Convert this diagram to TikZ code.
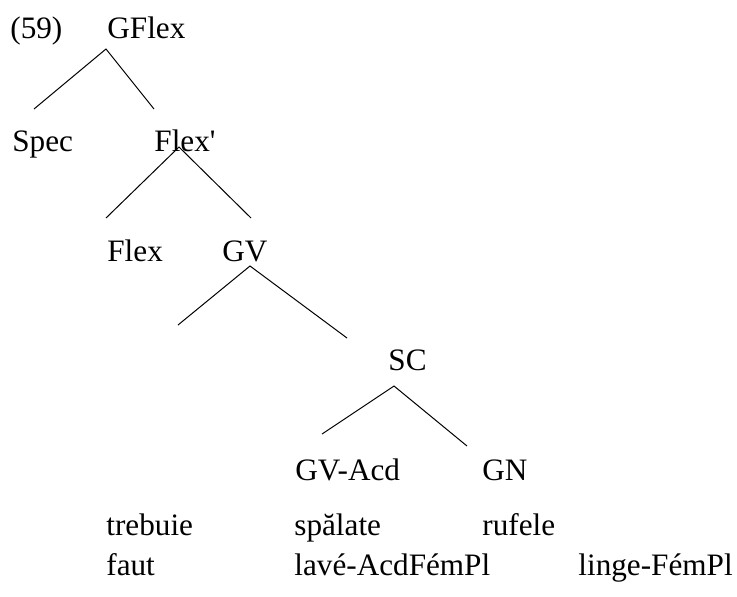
\documentclass[tikz,border=0pt]{standalone}
\usepackage{fontspec}
\setmainfont{Liberation Serif}
\usepackage{tikz}

\begin{document}
\begin{tikzpicture}[x=0.5pt,y=-0.5pt]
	\fontsize{15.6}{19}\selectfont
	\tikzset{lbl/.style={anchor=base west,inner sep=0pt}}
	\tikzset{branch/.style={line width=0.5pt}}
	\useasboundingbox (0,0) rectangle (737,596);
	
	\node[lbl] (num) at (10,38) {(59)};
	\node[lbl] (gflex) at (107,38) {GFlex};
	\node[lbl] (spec) at (12,151) {Spec};
	\node[lbl] (flexbar) at (154,151) {Flex\textquotesingle};
	\node[lbl] (flex) at (107,261) {Flex};
	\node[lbl] (gv) at (222,261) {GV};
	\node[lbl] (sc) at (388,370) {SC};
	\node[lbl] (gvacd) at (295,480) {GV-Acd};
	\node[lbl] (gn) at (482,480) {GN};
	
	\node[lbl] (trebuie) at (106,535) {trebuie};
	\node[lbl] (spalate) at (294,535) {spălate};
	\node[lbl] (rufele) at (482,535) {rufele};
	\node[lbl] (faut) at (106,575) {faut};
	\node[lbl] (lave) at (294,575) {lavé-AcdFémPl};
	\node[lbl] (linge) at (578,575) {linge-FémPl};
	
	% branch points
	\coordinate (gflex-b) at (106,49);
	\coordinate (spec-t) at (34,109);
	\coordinate (flexbar-t) at (154,109);
	\coordinate (flexbar-b) at (179,147);
	\coordinate (flex-t) at (106,218);
	\coordinate (gv-t) at (251,218);
	\coordinate (gv-b) at (250,266);
	\coordinate (empty-t) at (178,325);
	\coordinate (sc-t) at (347,338);
	\coordinate (sc-b) at (394,386);
	\coordinate (gvacd-t) at (322,434);
	\coordinate (gn-t) at (467,446);
	
	\draw[branch] (spec-t) -- (gflex-b) -- (flexbar-t);
	\draw[branch] (flex-t) -- (flexbar-b) -- (gv-t);
	\draw[branch] (empty-t) -- (gv-b) -- (sc-t);
	\draw[branch] (gvacd-t) -- (sc-b) -- (gn-t);
\end{tikzpicture}
\end{document}
